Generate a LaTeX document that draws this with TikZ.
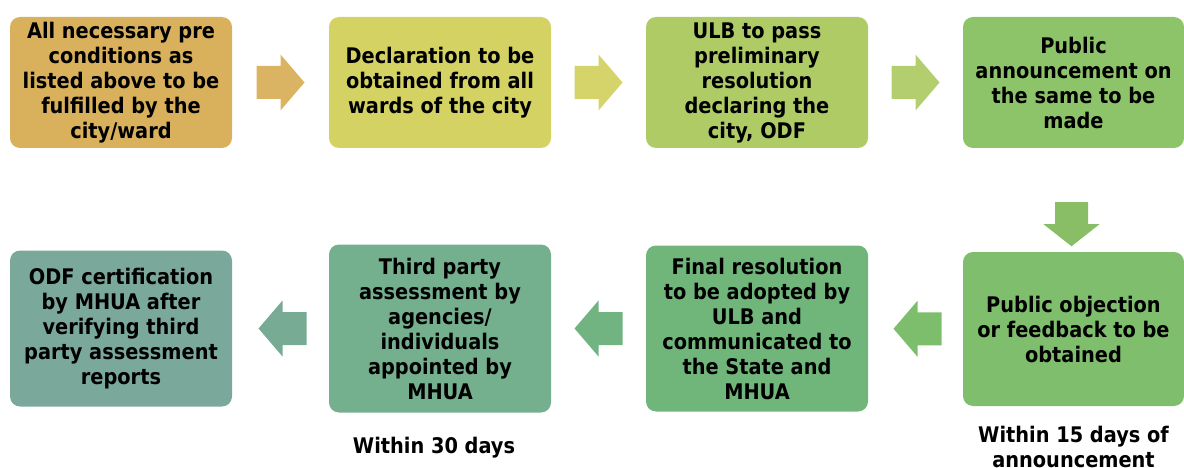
\documentclass[tikz,border=0pt]{standalone}
\usepackage{fontspec}
\setmainfont{DejaVu Sans Condensed}
\usetikzlibrary{calc}

\definecolor{cA}{HTML}{D9B05B}
\definecolor{cB}{HTML}{D3D263}
\definecolor{cC}{HTML}{AECB66}
\definecolor{cD}{HTML}{8DC46A}
\definecolor{cE}{HTML}{7EBE6C}
\definecolor{cF}{HTML}{70B67A}
\definecolor{cG}{HTML}{74AF8E}
\definecolor{cH}{HTML}{7AA89A}

\tikzset{
  blockarrow/.pic={\fill (-24,-16.5) -- (0,-16.5) -- (0,-28) -- (24,0) -- (0,28) -- (0,16.5) -- (-24,16.5) -- cycle;}
}

\begin{document}
\begin{tikzpicture}[x=1pt, y=1pt, font=\bfseries\fontsize{21.5}{25}\selectfont,
    stage/.style={rounded corners=10pt, align=center, inner sep=0pt, minimum width=222pt},
    note/.style={align=center, inner sep=0pt}]

    \useasboundingbox (0,0) rectangle (1184,-468);

    % top row
    \node[stage, fill=cA, minimum height=131pt] at (121, -82.5) (b1) {All necessary pre\\conditions as\\listed above to be\\fulfilled by the\\city/ward};
    \node[stage, fill=cB, minimum height=131pt] at (440, -82.5) (b2) {Declaration to be\\obtained from all\\wards of the city};
    \node[stage, fill=cC, minimum height=131pt] at (757, -82.5) (b3) {ULB to pass\\preliminary\\resolution\\declaring the\\city, ODF};
    \node[stage, fill=cD, minimum height=131pt, minimum width=221pt] at (1073.5, -82.5) (b4) {Public\\announcement on\\the same to be\\made};

    % bottom row
    \node[stage, fill=cE, minimum height=154pt, minimum width=221pt] at (1073.5, -329) (b5) {Public objection\\or feedback to be\\obtained};
    \node[stage, fill=cF, minimum height=166pt] at (757, -328.5) (b6) {Final resolution\\to be adopted by\\ULB and\\communicated to\\the State and\\MHUA};
    \node[stage, fill=cG, minimum height=168pt] at (440, -328.5) (b7) {Third party\\assessment by\\agencies/\\individuals\\appointed by\\MHUA};
    \node[stage, fill=cH, minimum height=156pt] at (121, -328.5) (b8) {ODF certification\\by MHUA after\\verifying third\\party assessment\\reports};

    % block arrows
    \pic[fill=cA!95!white] at ($(b1.east)!0.5!(b2.west)$) {blockarrow};
    \pic[fill=cB!95!white] at ($(b2.east)!0.5!(b3.west)$) {blockarrow};
    \pic[fill=cC!95!white] at ($(b3.east)!0.5!(b4.west)$) {blockarrow};
    \pic[fill=cD!97!black, rotate=-90, xscale=0.92] at ($(b4.south)+(-2,-76)$) {blockarrow};
    \pic[fill=cE!95!cF, rotate=180] at ($(b5.west)!0.5!(b6.east)+(2,0)$) {blockarrow};
    \pic[fill=cF!60!cG, rotate=180] at ($(b6.west)!0.5!(b7.east)$) {blockarrow};
    \pic[fill=cG!50!cH, rotate=180] at ($(b7.west)!0.5!(b8.east)+(2,0)$) {blockarrow};

    % time notes
    \node[note, anchor=north] at ($(b7.south)+(-6,-24)$) (t30) {Within 30 days};
    \node[note, anchor=north] at ($(b5.south)+(0,-20)$) (t15) {Within 15 days of\\announcement};

\end{tikzpicture}
\end{document}
